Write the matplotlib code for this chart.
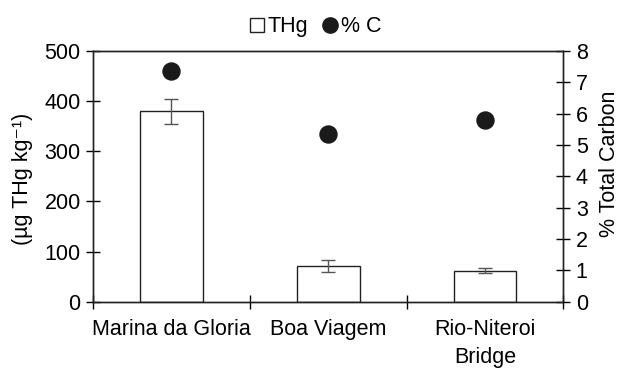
import matplotlib
matplotlib.use("Agg")
import matplotlib.pyplot as plt
import numpy as np
from matplotlib.lines import Line2D

plt.rcParams['font.family'] = ['Liberation Sans', 'DejaVu Sans']

sites = ["Marina da Gloria", "Boa Viagem", "Rio-Niteroi\nBridge"]
thg = [380, 72, 62]
thg_err = [25, 12, 5]
carbon = [7.35, 5.35, 5.8]

fs = 15.5
fig = plt.figure(figsize=(6.21, 3.69), dpi=100)
ax = fig.add_axes([0.150, 0.182, 0.757, 0.680])
x = np.arange(len(sites))

ax.bar(x, thg, width=0.4, color="white", edgecolor="#222222", linewidth=1.0, zorder=2)
ax.errorbar(x, thg, yerr=thg_err, fmt="none", ecolor="#555555", elinewidth=1.0,
            capsize=5, capthick=1.0, zorder=3)
ax.set_xlim(-0.5, 2.5)
ax.set_ylim(0, 500)
ax.set_yticks([0, 100, 200, 300, 400, 500])
ax.set_xticks(x)
ax.set_xticklabels(sites, linespacing=1.45)
ax.set_xticks([-0.5, 0.5, 1.5, 2.5], minor=True)
ax.tick_params(axis="x", which="major", length=0, pad=12, labelsize=fs)
ax.tick_params(axis="x", which="minor", direction="inout", length=10, width=1)
ax.tick_params(axis="y", direction="inout", length=10, width=1, labelsize=fs, pad=4)
ax.set_ylabel("(µg THg kg⁻¹)", fontsize=fs)
ax.yaxis.set_label_coords(-0.128, 0.49)

ax2 = ax.twinx()
ax2.scatter(x, carbon, s=150, color="#1a1a1a", zorder=4)
ax2.set_ylim(0, 8)
ax2.set_yticks(range(0, 9))
ax2.tick_params(axis="y", direction="inout", length=10, width=1, labelsize=fs, pad=4)
ax2.set_ylabel("% Total Carbon", fontsize=fs)
ax2.yaxis.set_label_coords(1.077, 0.55)

for a in (ax, ax2):
    for s in a.spines.values():
        s.set_linewidth(1.0)
        s.set_color("#222222")

handles = [Line2D([], [], marker="s", linestyle="none", markerfacecolor="white",
                  markeredgecolor="#222222", markersize=10, markeredgewidth=1.0),
           Line2D([], [], marker="o", linestyle="none", color="#1a1a1a", markersize=11)]
fig.legend(handles, ["THg", "% C"], loc="upper center", bbox_to_anchor=(0.505, 1.008),
           ncol=2, frameon=False, fontsize=fs, handletextpad=0.0, columnspacing=0.5,
           handlelength=1.0)

fig.savefig("out.png", dpi=100)
